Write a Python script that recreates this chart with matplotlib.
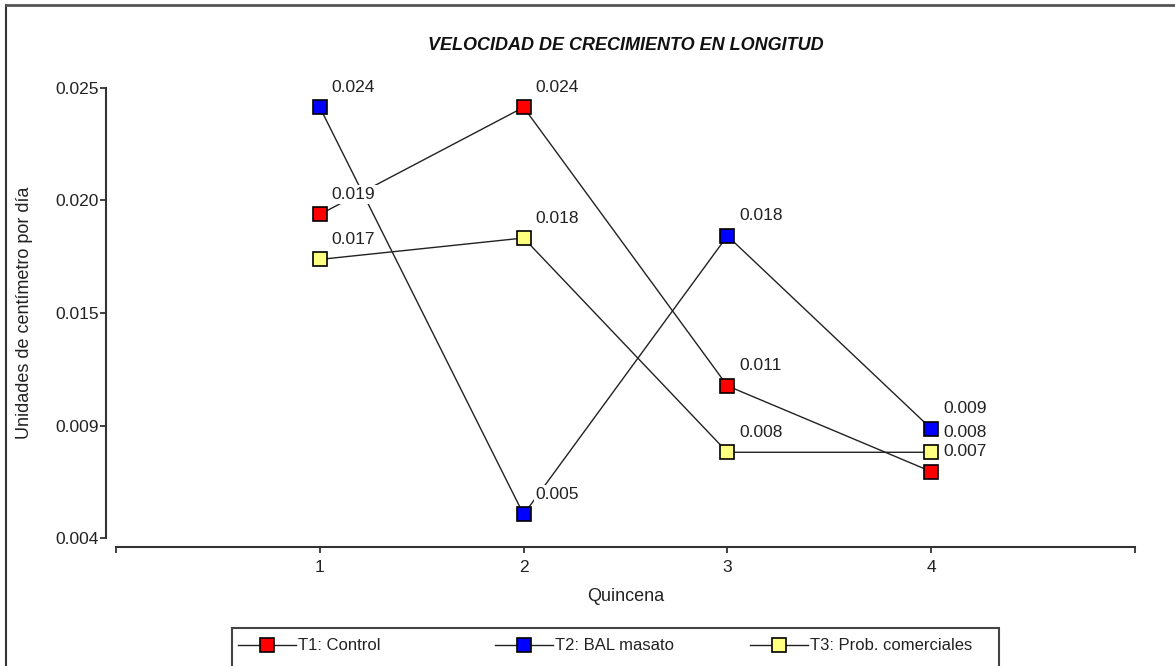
import matplotlib.pyplot as plt
from matplotlib.lines import Line2D
from matplotlib.patches import Rectangle

plt.rcParams['font.family'] = ['Liberation Sans', 'DejaVu Sans']

quincenas = [1, 2, 3, 4]
t1_control = [0.0191, 0.0241, 0.0111, 0.0071]
t2_bal = [0.0241, 0.0051, 0.0181, 0.0091]
t3_prob = [0.0170, 0.0180, 0.0080, 0.0080]

series_names = ['T1: Control', 'T2: BAL masato', 'T3: Prob. comerciales']
series_colors = ['#ff0000', '#0000ff', '#ffff80']

y_ticks = [0.004, 0.00925, 0.0145, 0.01975, 0.025]
y_tick_labels = ['0.004', '0.009', '0.015', '0.020', '0.025']
x_ticks = [0, 1, 2, 3, 4, 5]
x_tick_labels = ['', '1', '2', '3', '4', '']

W, H = 1175, 666
fig = plt.figure(figsize=(W / 100, H / 100), dpi=100)
ax = fig.add_axes([116 / W, 1 - 538 / H, (1135 - 116) / W, (538 - 88) / H])

text_col = '#222222'
fs = 12.5
handles = []
for vals, name, col in zip([t1_control, t2_bal, t3_prob], series_names, series_colors):
    ln, = ax.plot(quincenas, vals, color='#222222', lw=1.0, marker='s', markersize=10,
                  markerfacecolor=col, markeredgecolor='black', markeredgewidth=1.2,
                  label=name, zorder=4, clip_on=False)
    handles.append(ln)
    for x, y in zip(quincenas, vals):
        ax.annotate(f'{y:.3f}', (x, y), xytext=(12, 20), textcoords='offset pixels',
                    ha='left', va='center', fontsize=fs, color=text_col, zorder=5,
                    bbox=dict(facecolor='white', edgecolor='none', pad=1.5))

ax.set_xlim(0, 5)
ax.set_ylim(0.004, 0.025)
ax.set_yticks(y_ticks)
ax.set_yticklabels(y_tick_labels)
ax.set_xticks(x_ticks)
ax.set_xticklabels(x_tick_labels)

for s in ['top', 'right']:
    ax.spines[s].set_visible(False)
ax.spines['left'].set_position(('outward', 7.2))
ax.spines['bottom'].set_position(('outward', 6.5))
for s in ['left', 'bottom']:
    ax.spines[s].set_color('#333333')
    ax.spines[s].set_linewidth(1.5)
ax.tick_params(axis='both', colors='#333333', labelcolor=text_col, labelsize=fs,
               length=4, width=1.3)
ax.tick_params(axis='y', pad=1)
ax.tick_params(axis='x', pad=5.5)

ax.set_xlabel('Quincena', fontsize=13, color=text_col, labelpad=9.5)
ax.set_ylabel('Unidades de centímetro por día', fontsize=13, color=text_col, labelpad=16)
ax.set_title('VELOCIDAD DE CRECIMIENTO EN LONGITUD', fontsize=13, fontweight='bold',
             fontstyle='italic', color='#111111', pad=27)

# legend, one entry per column, box runs off the bottom edge
legend_x = [238, 495, 750]
for h, lx in zip(handles, legend_x):
    lg = fig.legend(handles=[h], labels=[h.get_label()], loc='center left',
                    bbox_to_anchor=(lx / W, 1 - 646 / H), frameon=False,
                    borderpad=0, borderaxespad=0, handlelength=3.5,
                    handletextpad=0.12, fontsize=12, numpoints=1)
    for t in lg.get_texts():
        t.set_color(text_col)
fig.patches.append(Rectangle((232 / W, -0.1), (999 - 232) / W, (666 - 628) / H + 0.1,
                             transform=fig.transFigure, fill=False,
                             edgecolor='#444444', lw=1.5))

# outer frame (left and top)
fig.add_artist(Line2D([6 / W, 6 / W], [0, 1 - 5 / H], transform=fig.transFigure,
                      color='#333333', lw=1.5))
fig.add_artist(Line2D([6 / W, 1], [1 - 5 / H, 1 - 5 / H], transform=fig.transFigure,
                      color='#555555', lw=2))

fig.savefig('out.png', dpi=100)
